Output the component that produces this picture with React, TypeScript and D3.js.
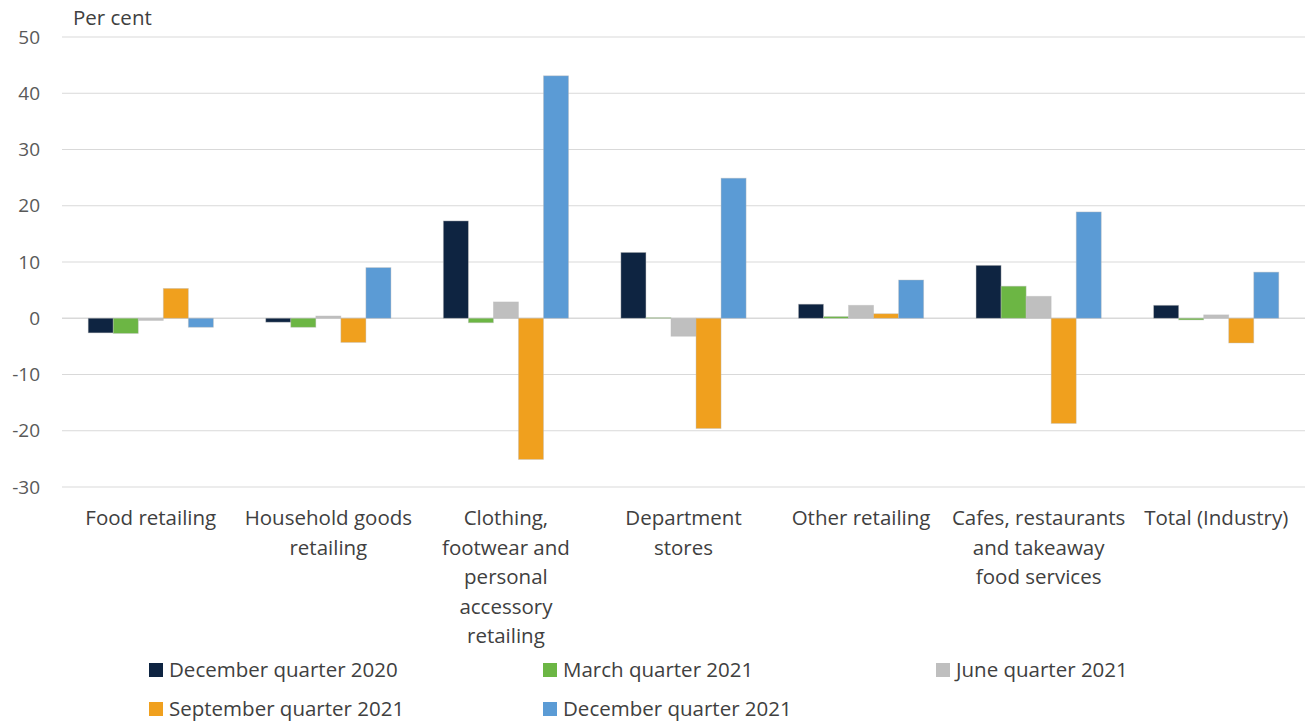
import React from "react";
import * as d3 from "d3";

const categories = [
  ["Food retailing"],
  ["Household goods", "retailing"],
  ["Clothing,", "footwear and", "personal", "accessory", "retailing"],
  ["Department", "stores"],
  ["Other retailing"],
  ["Cafes, restaurants", "and takeaway", "food services"],
  ["Total (Industry)"],
];
const seriesNames = [
  "December quarter 2020",
  "March quarter 2021",
  "June quarter 2021",
  "September quarter 2021",
  "December quarter 2021",
];
const dec2020 = [-2.6, -0.7, 17.3, 11.7, 2.5, 9.4, 2.3];
const mar2021 = [-2.7, -1.6, -0.8, 0.1, 0.3, 5.7, -0.3];
const jun2021 = [-0.4, 0.4, 2.9, -3.2, 2.3, 3.9, 0.6];
const sep2021 = [5.3, -4.3, -25.1, -19.6, 0.8, -18.7, -4.4];
const dec2021 = [-1.6, 9.0, 43.1, 24.9, 6.8, 18.9, 8.2];
const seriesValues = [dec2020, mar2021, jun2021, sep2021, dec2021];
const colors = ["#0e2441", "#6cb644", "#bfbfbf", "#f0a01e", "#5b9bd5"];
const yTicks = [50, 40, 30, 20, 10, 0, -10, -20, -30];

const FONT = "'Open Sans', sans-serif";

export default function App() {
  const W = 1310, H = 723;
  const left = 62, right = 1305, top = 37, bottom = 487;
  const y = d3.scaleLinear().domain([-30, 50]).range([bottom, top]);
  const x0 = d3.scaleBand().domain(categories.map((_, i) => String(i))).range([left, right]).paddingInner(0.295).paddingOuter(0.1475);
  const x1 = d3.scaleBand().domain(seriesNames).range([0, x0.bandwidth()]);
  const legendPos = [
    [149, 670], [543, 670], [936, 670], [149, 709], [543, 709],
  ];
  return (
    <svg width={W} height={H} style={{ position: "absolute", left: 0, top: 0 }} fontFamily={FONT}>
      <rect width={W} height={H} fill="#fff" />
      {yTicks.map((t) => (
        <g key={t}>
          <line x1={left} x2={right} y1={y(t)} y2={y(t)} stroke="#d9d9d9" strokeWidth={t === 0 ? 1.5 : 1} />
          <text x={40} y={y(t)} dy="0.35em" textAnchor="end" fontSize={19} fill="#595959">{t}</text>
        </g>
      ))}
      <text x={73} y={18} dy="0.35em" fontSize={20.5} fill="#404040">Per cent</text>
      {seriesNames.map((s, si) =>
        seriesValues[si].map((v, ci) => {
          const bx = (x0(String(ci)) as number) + (x1(s) as number);
          return (
            <rect key={s + ci} x={bx} width={x1.bandwidth()} y={Math.min(y(v), y(0))} height={Math.abs(y(v) - y(0))}
              fill={colors[si]} stroke="rgba(190,190,190,0.5)" strokeWidth={0.8} />
          );
        })
      )}
      {categories.map((lines, ci) => {
        const cx = (x0(String(ci)) as number) + x0.bandwidth() / 2;
        return (
          <text key={ci} x={cx} textAnchor="middle" fontSize={20.5} fill="#404040">
            {lines.map((l, li) => (
              <tspan key={li} x={cx} y={518 + li * 29.5} dy="0.35em">{l}</tspan>
            ))}
          </text>
        );
      })}
      {seriesNames.map((s, i) => (
        <g key={s}>
          <rect x={legendPos[i][0]} y={legendPos[i][1] - 7} width={14} height={14} fill={colors[i]} />
          <text x={legendPos[i][0] + 20} y={legendPos[i][1]} dy="0.35em" fontSize={20.5} fill="#404040">{s}</text>
        </g>
      ))}
    </svg>
  );
}
